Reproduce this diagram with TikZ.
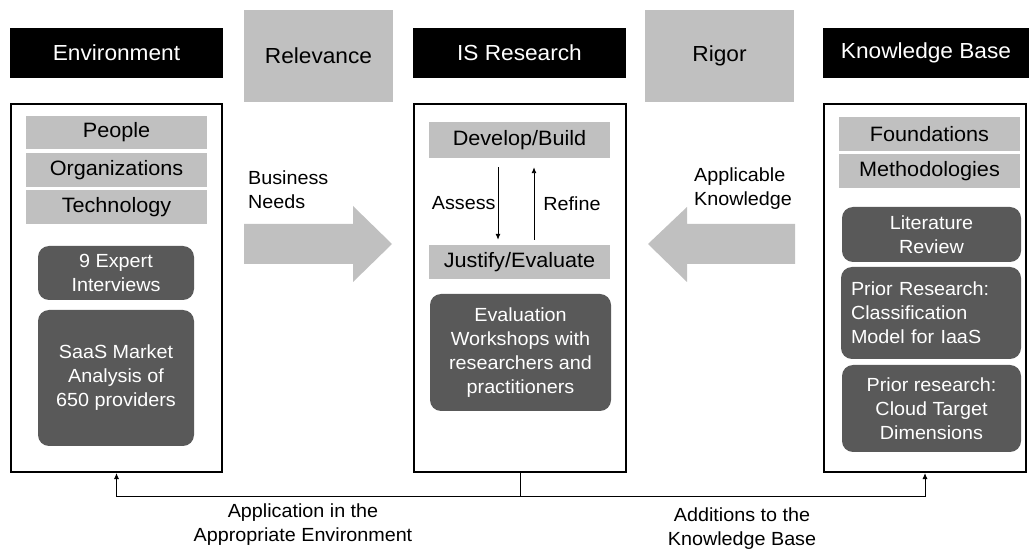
\documentclass[tikz,border=0pt]{standalone}
\usepackage{fontspec}
\setmainfont{Liberation Sans}[FakeStretch=1.04]
\usetikzlibrary{arrows.meta}
\definecolor{lgray}{RGB}{192,192,192}
\definecolor{dgray}{RGB}{89,89,89}
\begin{document}
\begin{tikzpicture}[x=1pt,y=-1pt,
  hdr/.style={fill=black,text=white,inner sep=0pt,font=\fontsize{21.8}{24}\selectfont},
  gbox/.style={fill=lgray,text=black,inner sep=0pt,font=\fontsize{21.8}{24}\selectfont},
  frame/.style={draw=black,line width=2pt,inner sep=0pt},
  bar/.style={fill=lgray,text=black,inner sep=0pt,minimum width=181pt,font=\fontsize{20.8}{24}\selectfont},
  dbox/.style={fill=dgray,text=white,rounded corners=11pt,inner sep=0pt,align=center,font=\fontsize{19}{24}\selectfont},
  lbl/.style={inner sep=0pt,font=\fontsize{19}{24}\selectfont},
  conn/.style={draw=black,line width=0.9pt,-{Latex[length=6pt,width=5pt]}},
  bigarrow/.style={fill=lgray}
]
\useasboundingbox (0,0) rectangle (1029,553);

% headers
\node[hdr,minimum width=213pt,minimum height=50pt] (envh) at (116.5,53) {Environment};
\node[gbox,minimum width=149pt,minimum height=92pt] (rel) at (318.5,56) {Relevance};
\node[hdr,minimum width=213pt,minimum height=50pt] (ish) at (519.5,53) {IS Research};
\node[gbox,minimum width=149pt,minimum height=92pt] (rig) at (719.5,56) {Rigor};
\node[hdr,minimum width=206pt,minimum height=50pt] (kbh) at (926,53) {Knowledge Base};

% frames
\node[frame,minimum width=211pt,minimum height=368pt] (envf) at (116.5,288) {};
\node[frame,minimum width=212pt,minimum height=368pt] (isf) at (520,288) {};
\node[frame,minimum width=202pt,minimum height=368pt] (kbf) at (925,288) {};

% environment contents
\node[bar,minimum height=33pt] (peo) at (116.5,132.5) {People};
\node[bar,minimum height=34pt] (org) at (116.5,170) {Organizations};
\node[bar,minimum height=34pt] (tec) at (116.5,207) {Technology};
\node[dbox,minimum width=156pt,minimum height=54pt] (exp) at (116,273) {9 Expert\\Interviews};
\node[dbox,minimum width=156pt,minimum height=136pt] (saas) at (116,378) {SaaS Market\\Analysis of\\650 providers};

% IS research contents
\node[bar,minimum height=36pt] (dev) at (519.5,140) {Develop/Build};
\node[bar,minimum height=34pt] (jus) at (519.5,262) {Justify/Evaluate};
\node[dbox,minimum width=181pt,minimum height=117pt] (evw) at (520.5,352.5) {Evaluation\\Workshops with\\researchers and\\practitioners};
\draw[conn] ([xshift=-21.5pt,yshift=-9pt]dev.south) -- ([xshift=-21.5pt,yshift=5pt]jus.north) node[lbl,midway,left=2pt] {Assess};
\draw[conn] ([xshift=14.5pt,yshift=5pt]jus.north) -- ([xshift=14.5pt,yshift=-9pt]dev.south) node[lbl,midway,right=9pt] {Refine};

% knowledge base contents
\node[bar,minimum height=34pt] (fou) at (929.5,134) {Foundations};
\node[bar,minimum height=34pt] (met) at (929.5,171) {Methodologies};
\node[dbox,minimum width=179pt,minimum height=55pt] (lit) at (931.5,234.5) {Literature\\Review};
\node[dbox,minimum width=180pt,minimum height=92pt,align=left,text width=160pt,inner xsep=10pt] (pr1) at (931,313) {Prior Research:\\Classification\\Model for IaaS};
\node[dbox,minimum width=179pt,minimum height=87pt] (pr2) at (931.5,408.5) {Prior research:\\Cloud Target\\Dimensions};

% big arrows
\fill[bigarrow] (244,224) -- (353,224) -- (353,206) -- (392,244) -- (353,282) -- (353,264) -- (244,264) -- cycle;
\fill[bigarrow] (795,224) -- (687,224) -- (687,207) -- (648,244) -- (687,282) -- (687,264) -- (795,264) -- cycle;
\node[lbl,align=left,anchor=west] (bn) at (248,190) {Business\\Needs};
\node[lbl,align=left] (ak) at (743,189) {Applicable\\Knowledge};

% bottom connectors
\coordinate (jn) at ([yshift=-23pt]isf.south);
\draw[line width=0.9pt] (isf.south) -- (jn);
\draw[conn] (jn) -| (envf.south);
\draw[conn] (jn) -| (kbf.south);
\node[lbl,align=center] (app) at (303,525) {Application in the\\Appropriate Environment};
\node[lbl,align=center] (add) at (742,529) {Additions to the\\Knowledge Base};
\end{tikzpicture}
\end{document}
